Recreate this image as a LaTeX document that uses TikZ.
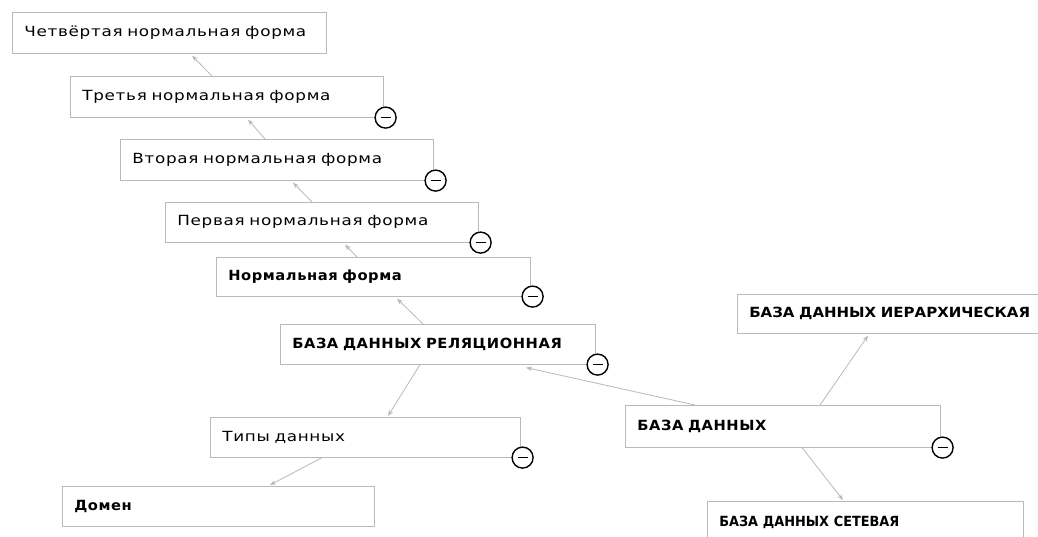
\documentclass[tikz,border=0pt]{standalone}
\usepackage{fontspec}
\setmainfont{DejaVu Sans}
\newfontfamily\boxfont[FakeStretch=1.2,LetterSpace=5]{DejaVu Sans}
\newfontfamily\boxboldfont[FakeStretch=1.05,LetterSpace=4]{DejaVu Sans Bold}
\newfontfamily\boxnarrowfont[FakeStretch=1.07]{DejaVu Sans Bold}
\newfontfamily\boxcondfont[FakeStretch=0.92]{DejaVu Sans Bold}
\usetikzlibrary{arrows.meta,calc}

\tikzset{
  box/.style={draw=gray!55, line width=0.6pt, fill=white, anchor=north west,
    inner xsep=12pt, inner ysep=0pt, align=left,
    font=\boxfont\fontsize{14}{16}\selectfont},
  boldbox/.style={box, font=\boxboldfont\fontsize{14}{16}\selectfont},
  narrowbox/.style={box, font=\boxnarrowfont\fontsize{14}{16}\selectfont},
  condbox/.style={box, font=\boxcondfont\fontsize{14}{16}\selectfont},
  collapse/.style={circle, draw=black, line width=1.4pt, fill=white,
    minimum size=21pt, inner sep=0pt,
    path picture={\draw[line width=1.6pt]
      ($(path picture bounding box.center)+(-5pt,0)$) --
      ($(path picture bounding box.center)+(5pt,0)$);}},
  conn/.style={draw=gray!55, line width=0.8pt,
    -{Stealth[length=6pt,width=4.5pt,fill=gray!60]}},
}

\begin{document}
\begin{tikzpicture}[x=1pt,y=-1pt]
\useasboundingbox (0,0) rectangle (1038,536);
\clip (0,0) rectangle (1038,536);
\fill[white] (0,0) rectangle (1038,536);

% chain of normal forms
\node[box, text width=290pt, minimum height=41pt] (b1) at (12,12) {Четвёртая нормальная форма};
\node[box, text width=289pt, minimum height=41pt] (b2) at (70,76) {Третья нормальная форма};
\node[box, text width=289pt, minimum height=41pt] (b3) at (120,139) {Вторая нормальная форма};
\node[box, text width=289pt, minimum height=40pt] (b4) at (165,202) {Первая нормальная форма};
\node[boldbox, text width=290pt, minimum height=39pt] (b5) at (216,257) {Нормальная форма};
\node[boldbox, text width=291pt, minimum height=40pt] (b6) at (280,324) {БАЗА ДАННЫХ РЕЛЯЦИОННАЯ};

% data types branch
\node[box, text width=286pt, minimum height=40pt] (b7) at (210,417) {Типы данных};
\node[boldbox, text width=288pt, minimum height=40pt] (b8) at (62,486) {Домен};

% database kinds
\node[boldbox, text width=291pt, minimum height=42pt] (b9) at (625,405) {БАЗА ДАННЫХ};
\node[narrowbox, text width=300pt, minimum height=39pt] (b10) at (737,294) {БАЗА ДАННЫХ ИЕРАРХИЧЕСКАЯ};
\node[condbox, text width=292pt, minimum height=42pt] (b11) at (707,501) {БАЗА ДАННЫХ СЕТЕВАЯ};

% collapse buttons
\foreach \b in {b2,b3,b4,b5,b6,b7,b9}
  \node[collapse] (m\b) at ($(\b.south east)+(2,0)$) {};

% connectors
\draw[conn] ($(b2.north west)+(142,0)$) -- ($(b1.south west)+(180,2)$);
\draw[conn] ($(b3.north west)+(145,0)$) -- ($(b2.south west)+(178,2)$);
\draw[conn] ($(b4.north west)+(147,0)$) -- ($(b3.south west)+(173,2)$);
\draw[conn] ($(b5.north west)+(141,0)$) -- ($(b4.south west)+(180,2)$);
\draw[conn] ($(b6.north west)+(143,0)$) -- ($(b5.south west)+(181,2)$);
\draw[conn] ($(b6.south west)+(140,0)$) -- ($(b7.north west)+(178,-1)$);
\draw[conn] ($(b7.south west)+(112,0)$) -- ($(b8.north west)+(208,-1)$);
\draw[conn] ($(b9.north west)+(70,0)$) -- ($(b6.south west)+(246,3)$);
\draw[conn] ($(b9.north west)+(195,0)$) -- ($(b10.south west)+(131,2)$);
\draw[conn] ($(b9.south west)+(177,0)$) -- ($(b11.north west)+(136,-1)$);
\end{tikzpicture}
\end{document}
